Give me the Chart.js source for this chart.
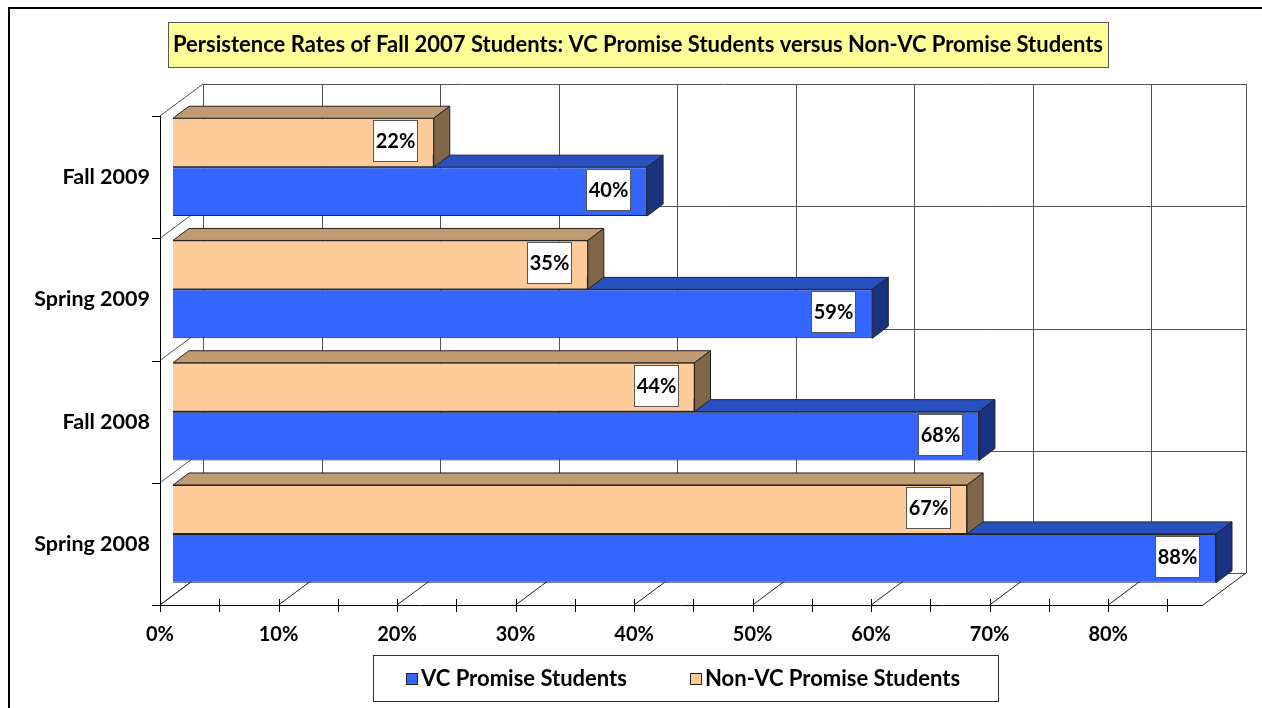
<html lang="en">
<head>
    <meta charset="utf-8" />
    <title>Persistence Rates of Fall 2007 Students</title>
    <script src="https://cdn.jsdelivr.net/npm/chart.js@4.4.1/dist/chart.umd.min.js"></script>
    <style>
        * {
  padding: 0;
  margin: 0;
  box-sizing: border-box;
}
body {
  width: 1262px;
  height: 708px;
  background: #ffffff;
  overflow: hidden;
}
#chart {
  display: block;
}
    </style>
</head>
<body>
    <canvas id="chart" width="1262" height="708"></canvas>

<script>
    // Categories (top to bottom) and the two series, in percent
    const categories = ["Fall 2009", "Spring 2009", "Fall 2008", "Spring 2008"];
    const vcValues = [40, 59, 68, 88];
    const nonVcValues = [22, 35, 44, 67];
    const seriesNames = ["VC Promise Students", "Non-VC Promise Students"];
    const titleText = "Persistence Rates of Fall 2007 Students: VC Promise Students versus Non-VC Promise Students";

    const FONT = "Lato, Carlito, 'Open Sans', sans-serif";

    // 3D look: back wall offset, bar plane offset and bar depth
    const wall = { dx: 43, dy: -32 };
    const shift = { dx: 13, dy: -10 };
    const depth = { dx: 16, dy: -12 };

    // face colours per dataset (0 = Non-VC, 1 = VC)
    const faceColors = [
        { front: "#FFCC99", top: "#C09A70", side: "#806548" },
        { front: "#3366FF", top: "#2850C0", side: "#1A3380" },
    ];

    const line = (ctx, x1, y1, x2, y2) => {
        ctx.beginPath();
        ctx.moveTo(x1, y1);
        ctx.lineTo(x2, y2);
        ctx.stroke();
    };

    const poly = (ctx, pts, fill) => {
        ctx.beginPath();
        ctx.moveTo(pts[0][0], pts[0][1]);
        for (let i = 1; i < pts.length; i++) ctx.lineTo(pts[i][0], pts[i][1]);
        ctx.closePath();
        ctx.fillStyle = fill;
        ctx.fill();
        ctx.stroke();
    };

    const box3d = {
        id: "box3d",
        beforeDraw(chart) {
            const ctx = chart.ctx;
            ctx.save();
            ctx.fillStyle = "#ffffff";
            ctx.fillRect(0, 0, chart.width, chart.height);
            // outer frame
            ctx.strokeStyle = "#000";
            ctx.lineWidth = 2;
            ctx.strokeRect(9, 8, 1400, 900);
            // title box
            ctx.font = "bold 22px " + FONT;
            const tw = ctx.measureText(titleText).width;
            const cx = 638;
            ctx.fillStyle = "#FFFF99";
            ctx.fillRect(cx - tw / 2 - 5, 22, tw + 10, 45);
            ctx.lineWidth = 1;
            ctx.strokeStyle = "#555";
            ctx.strokeRect(Math.round(cx - tw / 2 - 5) + 0.5, 22.5, Math.round(tw + 10), 45);
            ctx.fillStyle = "#000";
            ctx.textAlign = "center";
            ctx.textBaseline = "middle";
            ctx.fillText(titleText, cx, 45);
            // legend box
            ctx.strokeStyle = "#333";
            ctx.strokeRect(373.5, 655.5, 625, 46);
            const items = [
                { ds: 1, sq: 406, tx: 421 },
                { ds: 0, sq: 690, tx: 705 },
            ];
            ctx.font = "bold 22px " + FONT;
            ctx.textAlign = "left";
            items.forEach((it) => {
                const dset = chart.data.datasets[it.ds];
                ctx.fillStyle = dset.backgroundColor;
                ctx.fillRect(it.sq, 673, 11, 11);
                ctx.strokeStyle = "#222";
                ctx.strokeRect(it.sq + 0.5, 673.5, 11, 11);
                ctx.fillStyle = "#000";
                ctx.fillText(dset.label, it.tx, 679);
            });
            ctx.restore();
        },
        beforeDatasetsDraw(chart) {
            const ctx = chart.ctx;
            const area = chart.chartArea;
            const xs = chart.scales.x;
            const L = area.left, R = area.right, T = area.top, B = area.bottom;
            ctx.save();
            ctx.lineWidth = 1;
            // back wall verticals at each major tick
            ctx.strokeStyle = "#555";
            xs.ticks.forEach((t) => {
                const x = Math.round(xs.getPixelForValue(t.value) + wall.dx) + 0.5;
                line(ctx, x, T + wall.dy, x, B + wall.dy);
            });
            line(ctx, R + wall.dx + 0.5, T + wall.dy, R + wall.dx + 0.5, B + wall.dy);
            // category boundaries on back wall and left wall
            const step = (B - T) / categories.length;
            for (let i = 0; i <= categories.length; i++) {
                const y = Math.round(T + i * step + wall.dy) + 0.5;
                line(ctx, L + wall.dx, y, R + wall.dx, y);
                line(ctx, L, T + i * step, L + wall.dx, T + i * step + wall.dy);
            }
            // floor diagonals and right edge
            ctx.strokeStyle = "#222";
            xs.ticks.forEach((t) => {
                const x = xs.getPixelForValue(t.value);
                line(ctx, x, B, x + wall.dx, B + wall.dy);
            });
            line(ctx, R, B, R + wall.dx, B + wall.dy);
            // front axes
            ctx.strokeStyle = "#000";
            line(ctx, L + 0.5, T, L + 0.5, B);
            line(ctx, L, B + 0.5, R, B + 0.5);
            for (let i = 0; i <= categories.length; i++) {
                const y = Math.round(T + i * step) + 0.5;
                line(ctx, L - 8, y, L, y);
            }
            for (let v = 0; v <= xs.max; v += 5) {
                const x = Math.round(xs.getPixelForValue(v)) + 0.5;
                line(ctx, x, B - 6, x, B + 7);
            }
            ctx.restore();
            // bars sit a little behind the front plane
            ctx.save();
            ctx.translate(shift.dx, shift.dy);
        },
        afterDatasetDraw(chart, args) {
            const ctx = chart.ctx;
            const c = faceColors[args.index];
            ctx.save();
            ctx.strokeStyle = "#222";
            ctx.lineWidth = 1;
            args.meta.data.forEach((bar) => {
                const { x, y, base, height } = bar.getProps(["x", "y", "base", "height"], true);
                const t = y - height / 2, b = y + height / 2;
                poly(ctx, [[base, t], [x, t], [x + depth.dx, t + depth.dy], [base + depth.dx, t + depth.dy]], c.top);
                poly(ctx, [[x, t], [x + depth.dx, t + depth.dy], [x + depth.dx, b + depth.dy], [x, b]], c.side);
            });
            ctx.restore();
        },
        afterDatasetsDraw(chart) {
            const ctx = chart.ctx;
            ctx.save();
            ctx.font = "bold 20px " + FONT;
            ctx.textAlign = "center";
            ctx.textBaseline = "middle";
            chart.data.datasets.forEach((dset, di) => {
                chart.getDatasetMeta(di).data.forEach((bar, i) => {
                    const { x, y } = bar.getProps(["x", "y"], true);
                    const bw = 44, bh = 41;
                    const bx = Math.round(x - 17 - bw), by = Math.round(y - 2 - bh / 2);
                    ctx.fillStyle = "#ffffff";
                    ctx.fillRect(bx, by, bw, bh);
                    ctx.strokeStyle = "#555";
                    ctx.lineWidth = 1;
                    ctx.strokeRect(bx + 0.5, by + 0.5, bw, bh);
                    ctx.fillStyle = "#000";
                    ctx.fillText(dset.data[i] + "%", bx + bw / 2 + 0.5, by + bh / 2 + 1);
                });
            });
            ctx.restore();
            // undo bar plane shift
            ctx.restore();
        },
    };

    Chart.defaults.font.family = FONT;

    const myChart = new Chart(document.getElementById("chart"), {
        type: "bar",
        plugins: [box3d],
        data: {
            labels: categories,
            datasets: [
                {
                    label: seriesNames[1],
                    data: nonVcValues,
                    backgroundColor: faceColors[0].front,
                    borderColor: "#222",
                    borderWidth: 1,
                    clip: false,
                },
                {
                    label: seriesNames[0],
                    data: vcValues,
                    backgroundColor: faceColors[1].front,
                    borderColor: "#222",
                    borderWidth: 1,
                    clip: false,
                },
            ],
        },
        options: {
            indexAxis: "y",
            responsive: false,
            animation: false,
            devicePixelRatio: 1,
            categoryPercentage: 0.8,
            barPercentage: 1.0,
            layout: { padding: { left: 0, top: 116, right: 59, bottom: 0 } },
            plugins: {
                legend: { display: false },
                title: { display: false },
                tooltip: { enabled: false },
            },
            scales: {
                x: {
                    min: 0,
                    max: 88,
                    grid: { display: false, drawTicks: false },
                    border: { display: false },
                    ticks: {
                        stepSize: 10,
                        padding: 18,
                        color: "#000",
                        maxRotation: 0,
                        autoSkip: false,
                        font: { size: 20, weight: "bold" },
                        callback: (v) => v + "%",
                    },
                    afterBuildTicks: (s) => {
                        s.ticks = s.ticks.filter((t) => t.value % 10 === 0);
                    },
                    afterFit: (s) => {
                        s.height = 103;
                    },
                },
                y: {
                    grid: { display: false, drawTicks: false },
                    border: { display: false },
                    ticks: {
                        padding: 10,
                        color: "#000",
                        font: { size: 21.5, weight: "bold" },
                    },
                    afterFit: (s) => {
                        s.width = 160;
                    },
                },
            },
        },
    });
</script>
</body>
</html>
